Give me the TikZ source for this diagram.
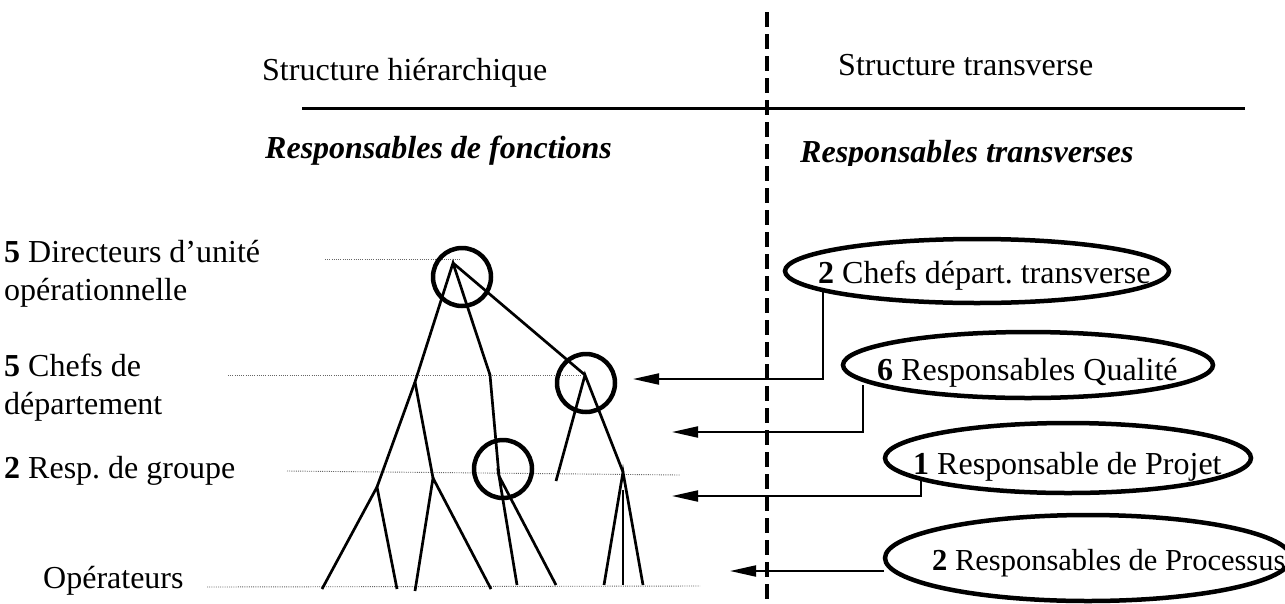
\documentclass[tikz,border=0pt]{standalone}
\usepackage{fontspec}
\setmainfont{Liberation Serif}
\usetikzlibrary{arrows.meta,shapes.geometric}
\frenchspacing
\begin{document}
\begin{tikzpicture}[x=1pt,y=-1pt,
  lbl/.style={anchor=base west, inner sep=0pt, font=\fontsize{32}{37}\selectfont},
  tree/.style={line width=2.7pt},
  ring/.style={draw, circle, line width=4.5pt, minimum size=58pt, inner sep=0pt},
  oval/.style={draw, ellipse, line width=4.5pt, inner sep=0pt},
  guide/.style={black!60, line width=0.9pt, dash pattern=on 1pt off 1.2pt},
  conn/.style={line width=2pt, -{Triangle[length=26pt,width=11pt]}},
  rule/.style={line width=3pt},
  divider/.style={line width=4.5pt, dash pattern=on 15pt off 7pt}
]
\fill[white] (0,0) rectangle (1285,603);
\useasboundingbox (0,0) rectangle (1285,603);

% headers
\node[lbl] (h1) at (262,80) {Structure hiérarchique};
\node[lbl] (h2) at (838,75) {Structure transverse};
\node[lbl] (s1) at (265,158) {\textbf{\textit{Responsables de fonctions}}};
\begin{scope}
  \clip (780,120) rectangle (1200,165);
  \node[lbl] (s2) at (800,162) {\textbf{\textit{Responsables transverses}}};
\end{scope}

\coordinate (hl) at (302,108);
\coordinate (hr) at (1245,108);
\draw[rule] (hl) -- (hr);
\coordinate (vt) at (767,12);
\coordinate (vb) at (767,610);
\draw[divider] (vt) -- (vb);

% left labels
\node[lbl] (l1) at (4,262) {\textbf{5} Directeurs d’unité};
\node[lbl] (l1b) at (4,300) {opérationnelle};
\node[lbl] (l2) at (4,376) {\textbf{5} Chefs de};
\node[lbl] (l2b) at (4,414) {département};
\node[lbl] (l3) at (4,478) {\textbf{2} Resp. de groupe};
\node[lbl] (l4) at (43,588) {Opérateurs};

% dotted guides
\coordinate (g1a) at (325,259); \coordinate (g1b) at (460,259);
\coordinate (g2a) at (228,375); \coordinate (g2b) at (582,375);
\coordinate (g3a) at (287,471); \coordinate (g3b) at (680,475);
\coordinate (g4a) at (207,587); \coordinate (g4b) at (700,586);
\draw[guide] (g1a) -- (g1b);
\draw[guide] (g2a) -- (g2b);
\draw[guide] (g3a) -- (g3b);
\draw[guide] (g4a) -- (g4b);

% tree
\coordinate (A) at (453,263);
\coordinate (L1) at (415,382);
\coordinate (M1) at (490,375);
\coordinate (R1) at (585,375);
\coordinate (L2) at (377,487);
\coordinate (L3) at (433,478);
\coordinate (M2) at (499,476);
\coordinate (R2) at (556,481);
\coordinate (R3) at (623,472);
\coordinate (R3v) at (623,490);
\coordinate (o1) at (322,589);
\coordinate (o2) at (397,589);
\coordinate (o3) at (415,591);
\coordinate (o4) at (491,589);
\coordinate (o5) at (517,585);
\coordinate (o6) at (556,585);
\coordinate (o7) at (604,585);
\coordinate (o8) at (623,585);
\coordinate (o9) at (643,585);
\draw[tree] (L2) -- (L1) -- (A) -- (M1) -- (M2);
\draw[tree] (A) -- (R1);
\draw[tree] (L1) -- (L3);
\draw[tree] (o1) -- (L2) -- (o2);
\draw[tree] (o3) -- (L3) -- (o4);
\draw[tree] (o5) -- (M2) -- (o6);
\draw[tree] (R2) -- (R1) -- (R3);
\draw[tree] (o7) -- (R3) -- (o9);
\draw[tree] (R3v) -- (o8);

% circles
\node[ring] (c1) at (462,277) {};
\node[ring] (c2) at (586,383) {};
\node[ring] (c3) at (503,469) {};

% ellipses
\node[oval, minimum width=384pt, minimum height=64pt] (e1) at (977,271) {};
\node[oval, minimum width=370pt, minimum height=66pt] (e2) at (1028,365) {};
\node[oval, minimum width=366pt, minimum height=70pt] (e3) at (1068,458) {};
\node[oval, minimum width=406pt, minimum height=86pt] (e4) at (1088,558) {};
\node[lbl] (t1) at (818,283) {\textbf{2} Chefs départ. transverse};
\node[lbl] (t2) at (877,380) {\textbf{6} Responsables Qualité};
\node[lbl] (t3) at (913,474) {\textbf{1} Responsable de Projet};
\node[lbl, font=\fontsize{30.5}{36}\selectfont] (t4) at (932,570) {\textbf{2} Responsables de Processus};

% connectors
\coordinate (a1s) at (823,290); \coordinate (a1e) at (633,379);
\coordinate (a2s) at (863,385); \coordinate (a2e) at (672,432);
\coordinate (a3s) at (921,477); \coordinate (a3e) at (672,496);
\coordinate (a4s) at (884,571); \coordinate (a4e) at (730,571);
\draw[conn] (a1s) |- (a1e);
\draw[conn] (a2s) |- (a2e);
\draw[conn] (a3s) |- (a3e);
\draw[conn] (a4s) -- (a4e);
\end{tikzpicture}
\end{document}
